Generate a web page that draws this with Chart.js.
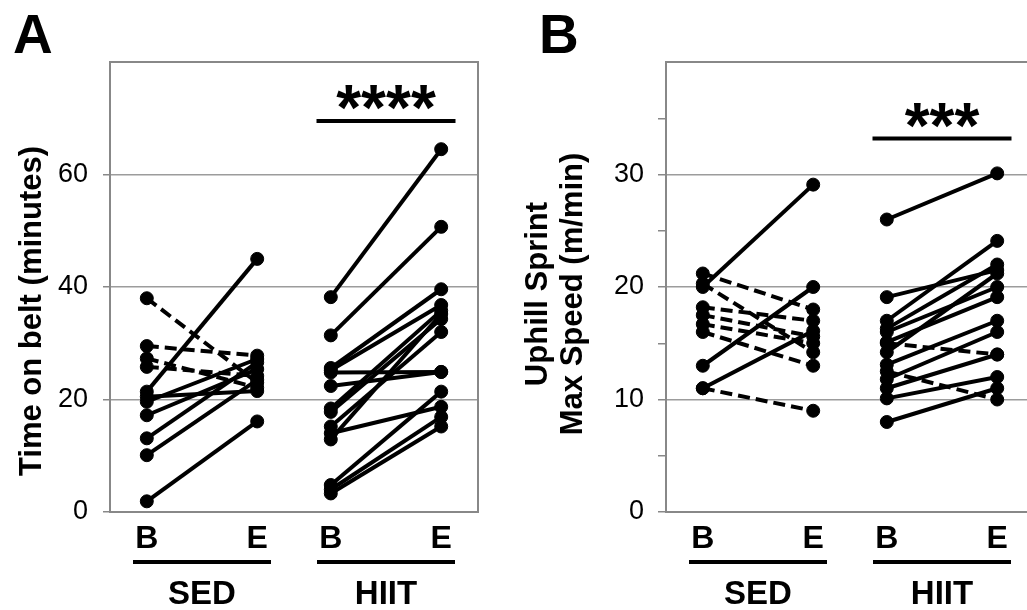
<!DOCTYPE html>
<html><head><meta charset="utf-8">
<script src="https://cdn.jsdelivr.net/npm/chart.js@4.4.1/dist/chart.umd.min.js"></script>
<style>
html,body{margin:0;padding:0;width:1027px;height:610px;overflow:hidden;background:#fff;}
#ca{position:absolute;left:0;top:0;}
#cb{position:absolute;left:510px;top:0;}
</style></head><body>
<canvas id="ca" width="510" height="610"></canvas>
<canvas id="cb" width="534" height="610"></canvas>
<script>
// ---------- data ----------
const xPositions = [1, 4, 6, 9];
const xLabels = ['B', 'E', 'B', 'E'];
const groupNames = ['SED', 'HIIT'];
const yTicksA = [0, 20, 40, 60];
const yTicksB = [0, 5, 10, 15, 20, 25, 30, 35];

// Panel A: Time on belt (minutes)
const sedBaseA  = [38.0, 29.5, 27.3, 25.8, 21.4, 20.5, 19.6, 17.2, 13.1, 10.1, 1.9];
const sedEndA   = [23.0, 27.8, 22.1, 24.2, 45.0, 21.5, 27.2, 25.4, 26.6, 23.5, 16.1];
const hiitBaseA = [38.2, 31.4, 25.6, 25.2, 24.8, 22.4, 18.4, 17.8, 15.2, 14.0, 12.9, 4.8, 4.0, 3.3];
const hiitEndA  = [64.5, 50.7, 39.6, 36.8, 24.9, 24.9, 35.8, 34.3, 32.0, 18.7, 35.2, 21.4, 16.9, 15.2];

// Panel B: Uphill sprint max speed (m/min)
const sedBaseB  = [21.2, 20.3, 20.0, 18.2, 17.5, 16.7, 16.0, 13.0, 11.0, 11.0];
const sedEndB   = [18.0, 14.2, 29.1, 17.0, 15.6, 15.0, 13.0, 20.0, 16.1, 9.0];
const hiitBaseB = [26.0, 19.1, 17.0, 16.3, 16.0, 15.1, 15.0, 14.2, 13.1, 12.5, 11.8, 11.0, 10.1, 8.0];
const hiitEndB  = [30.1, 21.5, 24.1, 22.0, 20.0, 19.1, 14.0, 21.2, 17.0, 10.0, 16.0, 14.0, 12.0, 11.0];

// ---------- rendering ----------
const FONT = '"Liberation Sans", Arial, Helvetica, sans-serif';

function pairSets(base, end, x0, x1) {
  return base.map((b, i) => ({
    data: [{x: x0, y: b}, {x: x1, y: end[i]}],
    borderColor: '#000',
    backgroundColor: '#000',
    pointBackgroundColor: '#000',
    pointBorderColor: '#000',
    borderWidth: 4,
    pointRadius: 6.5,
    pointBorderWidth: 1,
    borderDash: end[i] < b ? [12, 6] : [],
    fill: false,
    tension: 0
  }));
}

const decor = {
  id: 'decor',
  beforeDatasetsDraw(chart, args, o) {
    const {ctx, chartArea: a} = chart;
    ctx.save();
    ctx.strokeStyle = '#888';
    ctx.lineWidth = 2;
    ctx.beginPath();
    ctx.moveTo(a.left, a.top);
    ctx.lineTo(a.right, a.top);
    ctx.lineTo(a.right, a.bottom);
    ctx.stroke();
    ctx.restore();
  },
  afterDraw(chart, args, o) {
    const {ctx, chartArea: a, scales: {x, y}} = chart;
    ctx.save();
    ctx.fillStyle = '#000';
    ctx.strokeStyle = '#000';
    // panel letter
    ctx.font = `bold 55px ${FONT}`;
    ctx.textAlign = 'left';
    ctx.textBaseline = 'alphabetic';
    ctx.fillText(o.letter, o.letterX, 53);
    // group bars + names
    ctx.lineWidth = 4;
    ctx.font = `bold 33px ${FONT}`;
    ctx.textAlign = 'center';
    ctx.textBaseline = 'middle';
    groupNames.forEach((g, i) => {
      const xc = (x.getPixelForValue(xPositions[2 * i]) + x.getPixelForValue(xPositions[2 * i + 1])) / 2;
      ctx.beginPath();
      ctx.moveTo(xc - 69, a.bottom + 50);
      ctx.lineTo(xc + 69, a.bottom + 50);
      ctx.stroke();
      ctx.fillText(g, xc, a.bottom + 83);
    });
    // significance bar
    const xs = (x.getPixelForValue(xPositions[2]) + x.getPixelForValue(xPositions[3])) / 2;
    const ys = y.getPixelForValue(o.sigValue);
    ctx.beginPath();
    ctx.moveTo(xs - 69.5, ys);
    ctx.lineTo(xs + 69.5, ys);
    ctx.stroke();
    ctx.font = `bold 64px ${FONT}`;
    ctx.textBaseline = 'alphabetic';
    ctx.fillText(o.sigText, xs, ys + 9);
    // y title
    ctx.font = `bold 31px ${FONT}`;
    ctx.translate(o.titleX, o.titleY);
    ctx.rotate(-Math.PI / 2);
    ctx.textAlign = 'center';
    o.titleLines.forEach((t, i) => ctx.fillText(t, 0, i * 35));
    ctx.restore();
  }
};

function makeChart(id, sets, p) {
  return new Chart(document.getElementById(id), {
    type: 'line',
    data: {datasets: sets},
    plugins: [decor],
    options: {
      responsive: false,
      animation: false,
      layout: {padding: {top: 62, right: p.padRight, left: 0, bottom: 0}},
      plugins: {
        legend: {display: false},
        tooltip: {enabled: false},
        decor: p.decor
      },
      scales: {
        x: {
          type: 'linear', min: 0, max: 10,
          afterBuildTicks: s => { s.ticks = xPositions.map(v => ({value: v})); },
          afterFit: s => { s.height = 98; },
          ticks: {
            callback: (v, i) => xLabels[i],
            font: {family: FONT, size: 32, weight: 'bold'},
            color: '#000', padding: 8, maxRotation: 0, autoSkip: false
          },
          grid: {display: false, drawTicks: false},
          border: {display: true, color: '#888', width: 2}
        },
        y: {
          min: 0, max: p.yMax,
          afterBuildTicks: s => { s.ticks = p.yTicks.map(v => ({value: v})); },
          afterFit: s => { s.width = p.yWidth; },
          ticks: {
            callback: v => (v % p.labelEvery === 0 ? String(v) : ''),
            font: {family: FONT, size: 27},
            color: '#000', padding: p.tickPad, autoSkip: false
          },
          grid: {
            color: ctx => (ctx.tick && ctx.tick.value % p.labelEvery === 0) ? '#9c9c9c' : 'rgba(0,0,0,0)',
            lineWidth: 1.5,
            tickLength: p.tickLen,
            tickColor: '#888',
            drawTicks: true
          },
          border: {display: true, color: '#888', width: 2}
        }
      }
    }
  });
}

makeChart('ca',
  pairSets(sedBaseA, sedEndA, xPositions[0], xPositions[1]).concat(pairSets(hiitBaseA, hiitEndA, xPositions[2], xPositions[3])),
  {padRight: 32, yMax: 80, yTicks: yTicksA, labelEvery: 20, yWidth: 110, tickPad: 15, tickLen: 7,
   decor: {letter: 'A', letterX: 13, sigValue: 69.5, sigText: '****',
           titleX: 41, titleY: 311, titleLines: ['Time on belt (minutes)']}});

makeChart('cb',
  pairSets(sedBaseB, sedEndB, xPositions[0], xPositions[1]).concat(pairSets(hiitBaseB, hiitEndB, xPositions[2], xPositions[3])),
  {padRight: 10, yMax: 40, yTicks: yTicksB, labelEvery: 10, yWidth: 156, tickPad: 14, tickLen: 8,
   decor: {letter: 'B', letterX: 29, sigValue: 33.2, sigText: '***',
           titleX: 37, titleY: 294, titleLines: ['Uphill Sprint', 'Max Speed (m/min)']}});
</script>
</body></html>
